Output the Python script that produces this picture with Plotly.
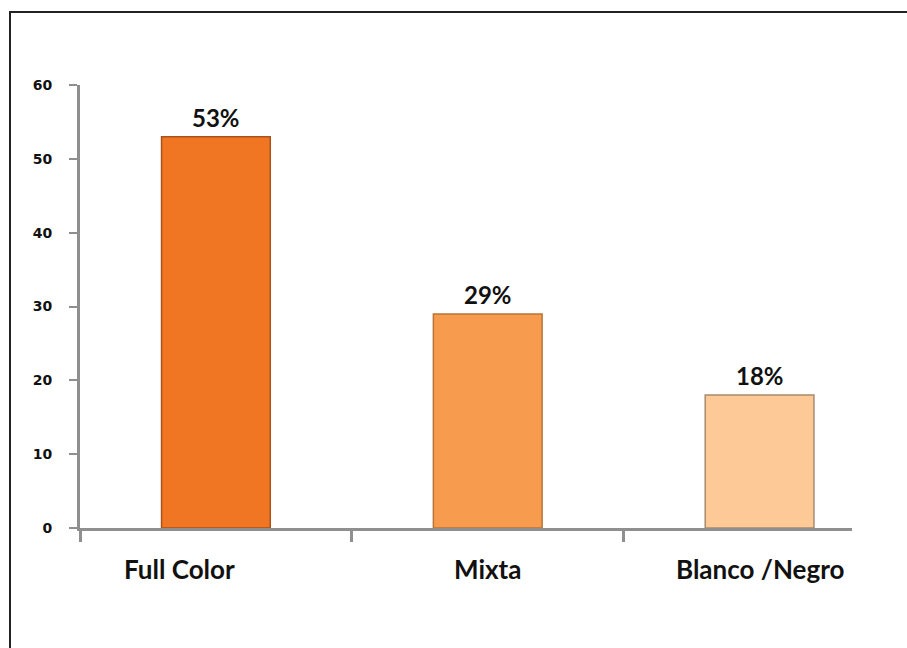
import plotly.graph_objects as go

categories = ["Full Color", "Mixta", "Blanco /Negro"]
values = [53, 29, 18]
value_labels = ["53%", "29%", "18%"]
bar_colors = ["#F07623", "#F79B4F", "#FDC997"]
edge_colors = ["#A9521C", "#B87536", "#A88A6E"]
y_ticks = [0, 10, 20, 30, 40, 50, 60]

xs = list(range(len(categories)))

fig = go.Figure()
fig.add_trace(go.Bar(
    x=xs, y=values, width=0.40,
    marker=dict(color=bar_colors, line=dict(color=edge_colors, width=1.5)),
    showlegend=False, hoverinfo="skip",
))

annotations = []
for x, v, t in zip(xs, values, value_labels):
    annotations.append(dict(x=x, y=v, xref="x", yref="y", text="<b>" + t + "</b>", showarrow=False,
                            yanchor="bottom", yshift=3,
                            font=dict(family="Lato", size=24, color="#111111")))
label_shift = [-36, 0, 0]
for x, c, s in zip(xs, categories, label_shift):
    annotations.append(dict(x=x, y=0, xref="x", yref="y", text="<b>" + c + "</b>", showarrow=False,
                            yanchor="middle", yshift=-41, xshift=s,
                            font=dict(family="Lato", size=26, color="#111111")))

fig.update_layout(
    width=907, height=648,
    margin=dict(l=80, r=55, t=85, b=120),
    paper_bgcolor="white", plot_bgcolor="white",
    annotations=annotations,
    shapes=[dict(type="rect", xref="paper", yref="paper",
                 x0=(10 - 80) / 772, x1=1.2, y0=-0.5, y1=1 + (85 - 12) / 443,
                 line=dict(color="#222222", width=2), layer="below")],
)
fig.update_xaxes(
    range=[-0.5, 2.34], showgrid=False, zeroline=False,
    showline=True, linecolor="#8f8f8f", linewidth=3,
    tickmode="array", tickvals=[-0.5, 0.5, 1.5], ticktext=["", "", ""],
    ticks="outside", ticklen=11, tickwidth=3, tickcolor="#8f8f8f",
)
fig.update_yaxes(
    range=[0, 60], showgrid=False, zeroline=False,
    showline=True, linecolor="#8f8f8f", linewidth=3,
    tickmode="array", tickvals=y_ticks,
    ticks="outside", ticklen=8, tickwidth=2, tickcolor="#8f8f8f",
    tickfont=dict(family="DejaVu Sans", size=14, color="#111111", weight="bold"),
    ticklabelstandoff=14,
)

fig.write_html("out.html")
